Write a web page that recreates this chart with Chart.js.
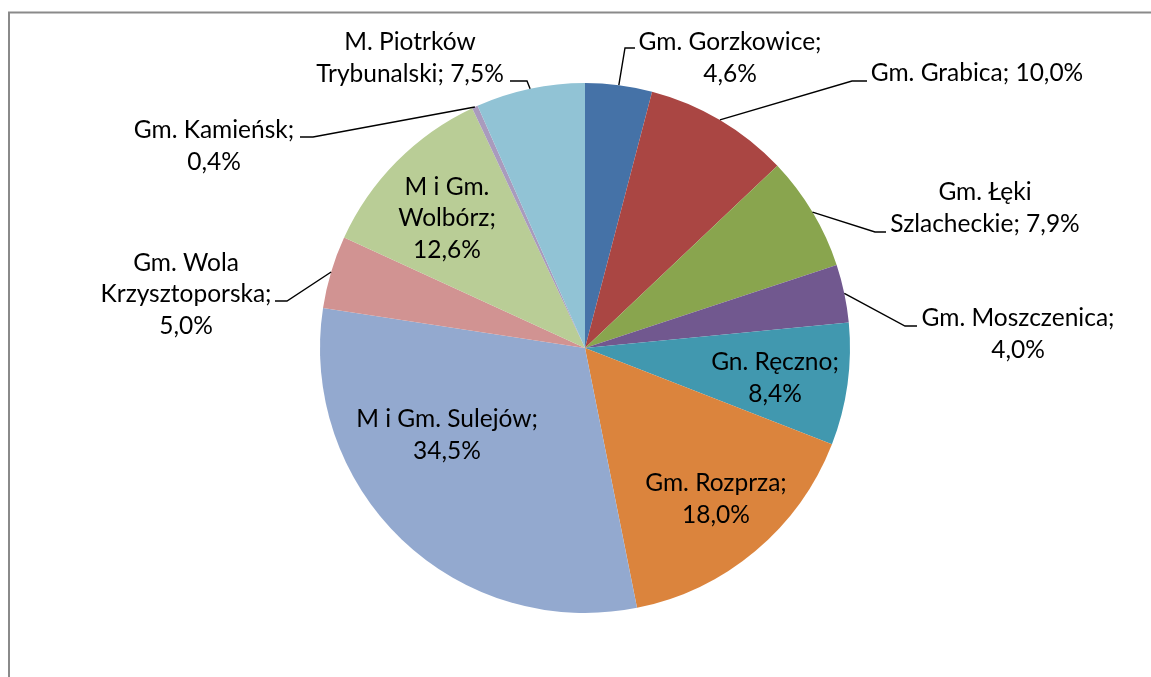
<!DOCTYPE html>
<html>
<head>
<meta charset="utf-8">
<script src="https://cdn.jsdelivr.net/npm/chart.js@4.4.1/dist/chart.umd.min.js"></script>
<style>
  html, body { margin: 0; padding: 0; background: #fff; }
  #wrap { position: relative; width: 1151px; height: 677px; overflow: hidden; }
</style>
</head>
<body>
<div id="wrap"><canvas id="pie" width="1151" height="677"></canvas></div>
<script>
  const gminy = ['Gm. Gorzkowice', 'Gm. Grabica', 'Gm. Łęki Szlacheckie', 'Gm. Moszczenica', 'Gn. Ręczno',
    'Gm. Rozprza', 'M i Gm. Sulejów', 'Gm. Wola Krzysztoporska', 'M i Gm. Wolbórz', 'Gm. Kamieńsk',
    'M. Piotrków Trybunalski'];
  const udzial = [4.6, 10.0, 7.9, 4.0, 8.4, 18.0, 34.5, 5.0, 12.6, 0.4, 7.5];
  // label text, split into lines the way the original wraps it; {v} = value
  const wiersze = [
    ['Gm. Gorzkowice;', '{v}'],
    ['Gm. Grabica; {v}'],
    ['Gm. Łęki', 'Szlacheckie; {v}'],
    ['Gm. Moszczenica;', '{v}'],
    ['Gn. Ręczno;', '{v}'],
    ['Gm. Rozprza;', '{v}'],
    ['M i Gm. Sulejów;', '{v}'],
    ['Gm. Wola', 'Krzysztoporska;', '{v}'],
    ['M i Gm.', 'Wolbórz;', '{v}'],
    ['Gm. Kamieńsk;', '{v}'],
    ['M. Piotrków', 'Trybunalski; {v}']
  ];

  const kolory = ['#4572a7', '#aa4643', '#89a54e', '#71588f', '#4198af', '#db843d',
    '#93a9cf', '#d19392', '#b9cd96', '#a99bbd', '#91c3d5'];

  // label block centre, relative to pie centre (px); lead = [elbow, end] of leader line
  const polozenie = [
    { at: [145, -291], lead: [[40, -300], [50, -300]] },
    { at: [392, -276], lead: [[267, -267], [282, -267]] },
    { at: [400, -141], lead: [[290, -116], [301, -116]] },
    { at: [433, -15], lead: [[320, -22], [332, -22]] },
    { at: [190, 29] },
    { at: [131, 150] },
    { at: [-138, 86] },
    { at: [-399, -55], lead: [[-298, -47], [-310, -47]] },
    { at: [-138, -131] },
    { at: [-371, -203], lead: [[-272, -211], [-285, -211]] },
    { at: [-175, -291], lead: [[-58, -267], [-75, -267]] }
  ];

  const FONT = '24.5px Lato, "Open Sans", sans-serif';
  const LINE_H = 31.5;

  function fmt(v) {
    return v.toFixed(1).replace('.', ',') + '%';
  }

  const ramka = {
    id: 'ramka',
    beforeDraw(chart) {
      const ctx = chart.ctx;
      ctx.save();
      ctx.strokeStyle = '#8a8a8a';
      ctx.lineWidth = 2;
      ctx.strokeRect(9, 12.5, chart.width + 20, chart.height + 20);
      ctx.restore();
    }
  };

  const etykiety = {
    id: 'etykiety',
    afterDatasetsDraw(chart) {
      const ctx = chart.ctx;
      const arcs = chart.getDatasetMeta(0).data;
      ctx.save();
      ctx.font = FONT;
      ctx.fillStyle = '#000';
      ctx.textAlign = 'center';
      ctx.textBaseline = 'alphabetic';
      arcs.forEach((arc, i) => {
        const cx = arc.x, cy = arc.y;
        const p = polozenie[i];
        const lines = wiersze[i].map(s => s.replace('{v}', fmt(udzial[i])));
        if (p.lead) {
          const mid = (arc.startAngle + arc.endAngle) / 2;
          const sx = cx + Math.cos(mid) * arc.outerRadius;
          const sy = cy + Math.sin(mid) * arc.outerRadius;
          ctx.beginPath();
          ctx.strokeStyle = '#000';
          ctx.lineWidth = 1.4;
          ctx.moveTo(sx, sy);
          ctx.lineTo(cx + p.lead[0][0], cy + p.lead[0][1]);
          ctx.lineTo(cx + p.lead[1][0], cy + p.lead[1][1]);
          ctx.stroke();
        }
        const x = cx + p.at[0];
        const top = cy + p.at[1] - (lines.length - 1) * LINE_H / 2;
        lines.forEach((t, k) => ctx.fillText(t, x, top + k * LINE_H + 9));
      });
      ctx.restore();
    }
  };

  new Chart(document.getElementById('pie'), {
    type: 'pie',
    data: {
      labels: gminy,
      datasets: [{
        data: udzial,
        backgroundColor: kolory,
        borderWidth: 0
      }]
    },
    options: {
      responsive: false,
      animation: false,
      layout: { padding: { left: 320, right: 301, top: 83, bottom: 64 } },
      plugins: { legend: { display: false }, tooltip: { enabled: false } }
    },
    plugins: [ramka, etykiety]
  });
</script>
</body>
</html>
